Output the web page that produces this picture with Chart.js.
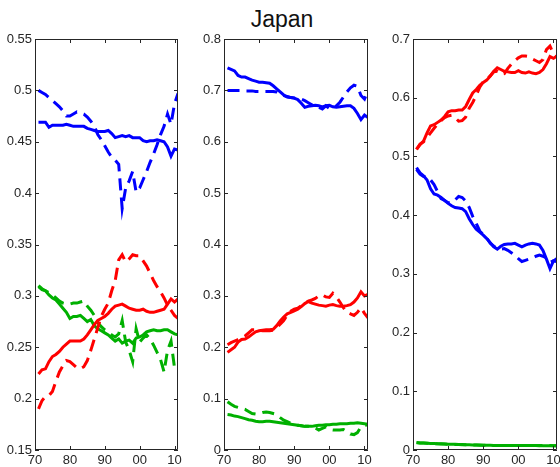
<!DOCTYPE html>
<html>
<head>
<meta charset="utf-8">
<script src="https://cdn.jsdelivr.net/npm/chart.js@4.4.1/dist/chart.umd.min.js"></script>
<style>
  html, body { margin: 0; padding: 0; background: #fff; }
  #wrap { position: relative; width: 560px; height: 467px; overflow: hidden; }
  #wrap canvas { position: absolute; top: 0; }
  #title { position: absolute; left: 0; width: 564px; top: 6px; text-align: center;
           font: 23px 'Liberation Sans', Arial, sans-serif; color: #111; }
</style>
</head>
<body>
<div id="wrap">
  <div id="title">Japan</div>
  <canvas id="c1" width="190" height="467" style="left:0px"></canvas>
  <canvas id="c2" width="190" height="467" style="left:189px"></canvas>
  <canvas id="c3" width="182" height="467" style="left:378px"></canvas>
</div>
<script>
const years = [1971, 1972, 1973, 1974, 1975, 1976, 1977, 1978, 1979, 1980,
               1981, 1982, 1983, 1984, 1985, 1986, 1987, 1988, 1989, 1990,
               1991, 1992, 1993, 1994, 1995, 1996, 1997, 1998, 1999, 2000,
               2001, 2002, 2003, 2004, 2005, 2006, 2007, 2008, 2009, 2010,
               2011];
const xTickValues = [1970, 1980, 1990, 2000, 2010];
const xTickLabels = ['70', '80', '90', '00', '10'];

// left panel
const p1YTicks = [0.15, 0.2, 0.25, 0.3, 0.35, 0.4, 0.45, 0.5, 0.55];
const p1YLabels = ['0.15', '0.2', '0.25', '0.3', '0.35', '0.4', '0.45', '0.5', '0.55'];
const p1BlueSolid = [0.469, 0.469, 0.469, 0.464, 0.466, 0.466, 0.466, 0.466, 0.467, 0.466,
                     0.465, 0.465, 0.465, 0.465, 0.463, 0.462, 0.461, 0.460, 0.460, 0.460,
                     0.461, 0.458, 0.454, 0.455, 0.456, 0.455, 0.456, 0.454, 0.454, 0.454,
                     0.451, 0.450, 0.451, 0.451, 0.452, 0.451, 0.450, 0.445, 0.436, 0.443,
                     0.442];
const p1BlueDash = [0.500, 0.498, 0.496, 0.493, 0.490, 0.487, 0.484, 0.480, 0.475, 0.475,
                    0.477, 0.479, 0.478, 0.477, 0.474, 0.470, 0.465, 0.457, 0.452, 0.446,
                    0.440, 0.435, 0.432, 0.428, 0.385, 0.405, 0.412, 0.421, 0.401, 0.405,
                    0.413, 0.421, 0.430, 0.438, 0.447, 0.457, 0.465, 0.477, 0.467, 0.487,
                    0.497];
const p1RedSolid = [0.224, 0.228, 0.229, 0.236, 0.241, 0.243, 0.246, 0.250, 0.253, 0.256,
                    0.256, 0.256, 0.256, 0.258, 0.262, 0.267, 0.272, 0.276, 0.278, 0.280,
                    0.283, 0.287, 0.290, 0.291, 0.292, 0.290, 0.288, 0.287, 0.286, 0.286,
                    0.287, 0.285, 0.284, 0.284, 0.285, 0.286, 0.287, 0.292, 0.297, 0.294,
                    0.297];
const p1RedDash = [0.190, 0.198, 0.202, 0.203, 0.207, 0.217, 0.226, 0.232, 0.237, 0.236,
                   0.233, 0.230, 0.229, 0.231, 0.237, 0.247, 0.258, 0.269, 0.280, 0.287,
                   0.293, 0.305, 0.315, 0.335, 0.340, 0.333, 0.336, 0.340, 0.339, 0.339,
                   0.334, 0.329, 0.322, 0.315, 0.309, 0.304, 0.298, 0.291, 0.286, 0.281,
                   0.278];
const p1GreenSolid = [0.309, 0.306, 0.305, 0.301, 0.298, 0.296, 0.292, 0.288, 0.284, 0.278,
                      0.280, 0.280, 0.281, 0.278, 0.275, 0.277, 0.271, 0.268, 0.266, 0.264,
                      0.262, 0.259, 0.256, 0.258, 0.254, 0.256, 0.257, 0.254, 0.259, 0.260,
                      0.262, 0.265, 0.266, 0.267, 0.266, 0.266, 0.267, 0.267, 0.265, 0.263,
                      0.262];
const p1GreenDash = [0.310, 0.307, 0.305, 0.303, 0.301, 0.298, 0.295, 0.293, 0.292, 0.292,
                     0.293, 0.293, 0.294, 0.295, 0.290, 0.286, 0.281, 0.274, 0.270, 0.267,
                     0.265, 0.262, 0.260, 0.263, 0.276, 0.255, 0.247, 0.236, 0.268, 0.255,
                     0.259, 0.262, 0.258, 0.252, 0.245, 0.238, 0.226, 0.247, 0.256, 0.230,
                     0.233];

// middle panel
const p2YTicks = [0, 0.1, 0.2, 0.3, 0.4, 0.5, 0.6, 0.7, 0.8];
const p2YLabels = ['0', '0.1', '0.2', '0.3', '0.4', '0.5', '0.6', '0.7', '0.8'];
const p2BlueSolid = [0.744, 0.741, 0.738, 0.729, 0.726, 0.726, 0.723, 0.720, 0.718, 0.716,
                     0.716, 0.715, 0.714, 0.709, 0.703, 0.697, 0.691, 0.688, 0.686, 0.685,
                     0.682, 0.675, 0.667, 0.669, 0.670, 0.671, 0.670, 0.668, 0.670, 0.671,
                     0.668, 0.667, 0.668, 0.669, 0.670, 0.670, 0.665, 0.655, 0.643, 0.652,
                     0.647];
const p2BlueDash = [0.700, 0.700, 0.700, 0.700, 0.700, 0.699, 0.699, 0.699, 0.698, 0.698,
                    0.698, 0.698, 0.698, 0.698, 0.697, 0.694, 0.690, 0.687, 0.686, 0.685,
                    0.684, 0.683, 0.680, 0.676, 0.672, 0.668, 0.667, 0.664, 0.670, 0.665,
                    0.666, 0.670, 0.677, 0.687, 0.697, 0.705, 0.710, 0.708, 0.690, 0.683,
                    0.700];
const p2RedSolid = [0.190, 0.195, 0.200, 0.210, 0.215, 0.216, 0.220, 0.225, 0.230, 0.232,
                    0.233, 0.234, 0.234, 0.235, 0.242, 0.251, 0.259, 0.265, 0.268, 0.271,
                    0.274, 0.279, 0.285, 0.289, 0.286, 0.284, 0.282, 0.281, 0.280, 0.282,
                    0.283, 0.281, 0.280, 0.280, 0.281, 0.283, 0.288, 0.296, 0.308, 0.300,
                    0.303];
const p2RedDash = [0.205, 0.209, 0.212, 0.215, 0.218, 0.222, 0.228, 0.234, 0.234, 0.233,
                   0.232, 0.232, 0.232, 0.233, 0.237, 0.245, 0.252, 0.263, 0.270, 0.274,
                   0.276, 0.281, 0.285, 0.290, 0.292, 0.295, 0.300, 0.302, 0.298, 0.297,
                   0.305, 0.298, 0.288, 0.277, 0.268, 0.265, 0.262, 0.268, 0.277, 0.266,
                   0.257];
const p2GreenSolid = [0.069, 0.068, 0.066, 0.065, 0.063, 0.061, 0.059, 0.058, 0.056, 0.055,
                      0.055, 0.056, 0.056, 0.055, 0.054, 0.053, 0.052, 0.051, 0.050, 0.049,
                      0.048, 0.047, 0.046, 0.046, 0.046, 0.047, 0.048, 0.048, 0.049, 0.049,
                      0.050, 0.050, 0.051, 0.051, 0.051, 0.052, 0.052, 0.053, 0.052, 0.051,
                      0.050];
const p2GreenDash = [0.094, 0.089, 0.085, 0.083, 0.081, 0.079, 0.075, 0.071, 0.070, 0.071,
                     0.073, 0.074, 0.073, 0.071, 0.069, 0.063, 0.058, 0.055, 0.052, 0.050,
                     0.048, 0.047, 0.046, 0.046, 0.045, 0.043, 0.039, 0.042, 0.045, 0.040,
                     0.039, 0.039, 0.039, 0.040, 0.036, 0.031, 0.030, 0.034, 0.045, 0.048,
                     0.049];

// right panel
const p3YTicks = [0, 0.1, 0.2, 0.3, 0.4, 0.5, 0.6, 0.7];
const p3YLabels = ['0', '0.1', '0.2', '0.3', '0.4', '0.5', '0.6', '0.7'];
const p3RedSolid = [0.512, 0.520, 0.526, 0.540, 0.552, 0.554, 0.558, 0.562, 0.568, 0.576,
                    0.578, 0.578, 0.579, 0.579, 0.585, 0.597, 0.608, 0.614, 0.621, 0.626,
                    0.630, 0.637, 0.645, 0.651, 0.648, 0.645, 0.644, 0.643, 0.643, 0.646,
                    0.643, 0.642, 0.644, 0.642, 0.641, 0.643, 0.648, 0.658, 0.670, 0.667,
                    0.671];
const p3RedDash = [0.512, 0.521, 0.525, 0.532, 0.540, 0.548, 0.555, 0.561, 0.566, 0.569,
                   0.570, 0.566, 0.560, 0.561, 0.567, 0.582, 0.592, 0.604, 0.618, 0.627,
                   0.632, 0.637, 0.644, 0.645, 0.640, 0.641, 0.650, 0.657, 0.663, 0.668,
                   0.671, 0.671, 0.670, 0.666, 0.663, 0.660, 0.665, 0.682, 0.688, 0.675,
                   0.670];
const p3BlueSolid = [0.481, 0.472, 0.467, 0.460, 0.445, 0.436, 0.434, 0.430, 0.425, 0.420,
                     0.416, 0.413, 0.412, 0.411, 0.406, 0.394, 0.384, 0.376, 0.371, 0.366,
                     0.360, 0.353, 0.346, 0.342, 0.347, 0.350, 0.351, 0.351, 0.352, 0.349,
                     0.346, 0.349, 0.351, 0.352, 0.351, 0.349, 0.340, 0.325, 0.309, 0.322,
                     0.321];
const p3BlueDash = [0.478, 0.470, 0.466, 0.466, 0.460, 0.452, 0.440, 0.428, 0.425, 0.421,
                    0.421, 0.426, 0.432, 0.430, 0.424, 0.413, 0.398, 0.386, 0.373, 0.367,
                    0.361, 0.352, 0.347, 0.343, 0.342, 0.343, 0.340, 0.336, 0.332, 0.326,
                    0.321, 0.323, 0.325, 0.327, 0.330, 0.332, 0.330, 0.327, 0.320, 0.322,
                    0.326];
const p3GreenSolid = [0.0125, 0.0120, 0.0118, 0.0115, 0.0112, 0.0110, 0.0107, 0.0105, 0.0102, 0.0100,
                      0.0098, 0.0096, 0.0094, 0.0092, 0.0090, 0.0088, 0.0086, 0.0085, 0.0084, 0.0082,
                      0.0080, 0.0079, 0.0078, 0.0077, 0.0076, 0.0076, 0.0076, 0.0076, 0.0076, 0.0076,
                      0.0075, 0.0075, 0.0075, 0.0075, 0.0075, 0.0075, 0.0074, 0.0074, 0.0074, 0.0074,
                      0.0074];
const p3GreenDash = [0.0130, 0.0120, 0.0120, 0.0115, 0.0110, 0.0110, 0.0105, 0.0104, 0.0101, 0.0099,
                     0.0097, 0.0095, 0.0094, 0.0091, 0.0089, 0.0087, 0.0086, 0.0084, 0.0083, 0.0081,
                     0.0080, 0.0079, 0.0077, 0.0077, 0.0076, 0.0075, 0.0076, 0.0077, 0.0076, 0.0075,
                     0.0075, 0.0076, 0.0077, 0.0076, 0.0075, 0.0074, 0.0075, 0.0076, 0.0075, 0.0074,
                     0.0073];

const BLUE = '#0000ff';
const RED = '#ff0000';
const GREEN = '#00b000';
const AXIS = '#262626';
const FONT = "'Liberation Sans', Arial, Helvetica, sans-serif";

// box around the plot with inward tick marks, MATLAB style
const boxTicks = {
  id: 'boxTicks',
  afterDatasetsDraw(chart) {
    const { ctx, chartArea: a, scales: { x, y } } = chart;
    const len = 4;
    ctx.save();
    ctx.strokeStyle = AXIS;
    ctx.lineWidth = 1;
    ctx.beginPath();
    ctx.rect(Math.round(a.left) + 0.5, Math.round(a.top) + 0.5,
             Math.round(a.right - a.left) - 1, Math.round(a.bottom - a.top) - 1);
    x.ticks.forEach(t => {
      const px = Math.round(x.getPixelForValue(t.value)) + 0.5;
      ctx.moveTo(px, a.bottom); ctx.lineTo(px, a.bottom - len);
      ctx.moveTo(px, a.top); ctx.lineTo(px, a.top + len);
    });
    y.ticks.forEach(t => {
      const py = Math.round(y.getPixelForValue(t.value)) + 0.5;
      ctx.moveTo(a.left, py); ctx.lineTo(a.left + len, py);
      ctx.moveTo(a.right, py); ctx.lineTo(a.right - len, py);
    });
    ctx.stroke();
    ctx.restore();
  }
};

function toPoints(values) {
  return years.map((yr, i) => ({ x: yr, y: values[i] }));
}

function line(values, color, dashed) {
  return {
    data: toPoints(values),
    borderColor: color,
    borderWidth: 3,
    borderDash: dashed ? [12, 7] : [],
    pointRadius: 0,
    tension: 0,
    fill: false,
    clip: 0
  };
}

function makePanel(id, yMax, yMin, yTicks, yLabels, datasets, padRight) {
  const ctx = document.getElementById(id).getContext('2d');
  return new Chart(ctx, {
    type: 'line',
    data: { datasets },
    options: {
      responsive: false,
      animation: false,
      layout: { padding: { top: 39, right: padRight, left: 0, bottom: 0 } },
      plugins: { legend: { display: false }, tooltip: { enabled: false } },
      scales: {
        x: {
          type: 'linear',
          min: 1970,
          max: 2011,
          grid: { display: false, drawTicks: false },
          border: { display: false },
          afterBuildTicks: s => { s.ticks = xTickValues.map(v => ({ value: v })); },
          afterFit: s => { s.height = 17; s.paddingLeft = 0; s.paddingRight = 0; },
          ticks: {
            autoSkip: false,
            maxRotation: 0,
            padding: 3,
            color: AXIS,
            font: { size: 13, family: FONT },
            callback: (v, i) => xTickLabels[i]
          }
        },
        y: {
          min: yMin,
          max: yMax,
          grid: { display: false, drawTicks: false },
          border: { display: false },
          afterBuildTicks: s => { s.ticks = yTicks.map(v => ({ value: v })); },
          afterFit: s => { s.width = 35; s.paddingTop = 0; s.paddingBottom = 0; },
          ticks: {
            autoSkip: false,
            padding: 3,
            color: AXIS,
            font: { size: 13, family: FONT },
            callback: (v, i) => yLabels[i]
          }
        }
      }
    },
    plugins: [boxTicks]
  });
}

makePanel('c1', 0.55, 0.15, p1YTicks, p1YLabels, [
  line(p1BlueDash, BLUE, true),
  line(p1BlueSolid, BLUE, false),
  line(p1RedDash, RED, true),
  line(p1RedSolid, RED, false),
  line(p1GreenDash, GREEN, true),
  line(p1GreenSolid, GREEN, false)
], 12);

makePanel('c2', 0.8, 0, p2YTicks, p2YLabels, [
  line(p2BlueDash, BLUE, true),
  line(p2BlueSolid, BLUE, false),
  line(p2RedDash, RED, true),
  line(p2RedSolid, RED, false),
  line(p2GreenDash, GREEN, true),
  line(p2GreenSolid, GREEN, false)
], 11);

makePanel('c3', 0.7, 0, p3YTicks, p3YLabels, [
  line(p3RedDash, RED, true),
  line(p3RedSolid, RED, false),
  line(p3BlueDash, BLUE, true),
  line(p3BlueSolid, BLUE, false),
  line(p3GreenDash, GREEN, true),
  line(p3GreenSolid, GREEN, false)
], 3);
</script>
</body>
</html>
